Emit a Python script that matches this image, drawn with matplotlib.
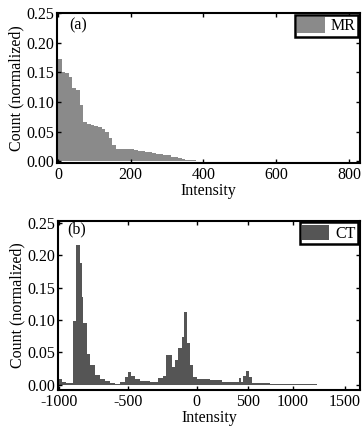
import numpy as np
import matplotlib
matplotlib.use("Agg")
import matplotlib.pyplot as plt

# MR histogram (normalized counts), bins of width 10 starting at 0
mr_edges = np.arange(0, 420, 10)
mr_counts = [0.172, 0.151, 0.149, 0.142, 0.123, 0.121, 0.095, 0.066, 0.063, 0.062,
             0.060, 0.058, 0.055, 0.049, 0.040, 0.028, 0.021, 0.021, 0.020, 0.020,
             0.020, 0.019, 0.018, 0.017, 0.016, 0.015, 0.014, 0.013, 0.012, 0.011,
             0.010, 0.008, 0.007, 0.005, 0.004, 0.003, 0.002, 0.002, 0.001, 0.001,
             0.0005]

# CT histogram (normalized counts), uneven bin edges
ct_edges = [-1000, -978, -949, -899, -877, -848, -833, -826, -797, -775, -739, -703,
            -667, -630, -594, -558, -522, -500, -478, -449, -413, -341, -283, -246,
            -225, -181, -159, -138, -109, -94, -72, -51, -29, 0, 127, 245, 412, 432,
            451, 480, 511, 544, 744, 1067, 1231]
ct_counts = [0.009, 0.004, 0.003, 0.098, 0.216, 0.188, 0.135, 0.095, 0.048, 0.030,
             0.016, 0.009, 0.006, 0.003, 0.002, 0.005, 0.012, 0.020, 0.014, 0.009,
             0.006, 0.004, 0.010, 0.014, 0.046, 0.028, 0.038, 0.057, 0.074, 0.112,
             0.064, 0.030, 0.012, 0.009, 0.007, 0.005, 0.011, 0.004, 0.013, 0.022,
             0.012, 0.003, 0.002, 0.0015]

y_ticks = [0.00, 0.05, 0.10, 0.15, 0.20, 0.25]
mr_ticks = [0, 200, 400, 600, 800]
ct_ticks = [-1000, -500, 0, 500, 1000, 1500]
ct_tick_labels = ["-1000", "-500", "0", "500", "1000", "1500"]
# screen spacing of the CT ticks (the original axis is not evenly spaced)
ct_tick_pos = [0, 69, 138, 189, 234, 286]

plt.rcParams["font.family"] = ["Liberation Serif", "DejaVu Serif"]
plt.rcParams["font.size"] = 11.5
plt.rcParams["axes.unicode_minus"] = False


def _piecewise(x, xs, ys):
    x = np.asarray(x, dtype=float)
    y = np.interp(x, xs, ys)
    lo = ys[0] + (x - xs[0]) * (ys[1] - ys[0]) / (xs[1] - xs[0])
    hi = ys[-1] + (x - xs[-1]) * (ys[-1] - ys[-2]) / (xs[-1] - xs[-2])
    y = np.where(x < xs[0], lo, y)
    y = np.where(x > xs[-1], hi, y)
    return y


def ct_fwd(x):
    return _piecewise(x, ct_ticks, ct_tick_pos)


def ct_inv(y):
    return _piecewise(y, ct_tick_pos, ct_ticks)


def style(ax):
    ax.tick_params(direction="in", top=True, right=True, length=3, width=1, pad=2)
    ax.tick_params(axis="x", pad=3)
    for s in ax.spines.values():
        s.set_linewidth(1.5)
    ax.set_yticks(y_ticks)
    ax.set_yticklabels(["%.2f" % v for v in y_ticks])
    ax.set_ylabel("Count (normalized)", labelpad=1)
    ax.set_xlabel("Intensity", labelpad=0)


def add_legend(ax):
    leg = ax.legend(loc="upper right", fancybox=False, framealpha=1, borderaxespad=0.1,
                    handlelength=1.7, handleheight=1.1, borderpad=0.15,
                    handletextpad=0.4)
    leg.get_frame().set_edgecolor("black")
    leg.get_frame().set_linewidth(1.8)


fig = plt.figure(figsize=(3.62, 4.28), dpi=100)

ax1 = fig.add_axes([0.157, 0.619, 0.837, 0.350])
ax1.stairs(mr_counts, mr_edges, fill=True, color="#8a8a8a", label="MR")
ax1.set_xlim(-3, 830)
ax1.set_ylim(-0.003, 0.25)
ax1.set_xticks(mr_ticks)
style(ax1)
ax1.text(0.04, 0.97, "(a)", transform=ax1.transAxes, va="top", ha="left")
add_legend(ax1)

ax2 = fig.add_axes([0.160, 0.089, 0.834, 0.395])
ax2.set_xscale("function", functions=(ct_fwd, ct_inv))
ax2.stairs(ct_counts, ct_edges, fill=True, color="#555555", label="CT")
ax2.set_xlim(-1007, 1644)
ax2.set_ylim(-0.0077, 0.253)
ax2.set_xticks(ct_ticks)
ax2.set_xticklabels(ct_tick_labels)
ax2.xaxis.set_minor_locator(matplotlib.ticker.NullLocator())
style(ax2)
ax2.text(0.03, 0.995, "(b)", transform=ax2.transAxes, va="top", ha="left")
add_legend(ax2)

fig.savefig("out.png", dpi=100)
